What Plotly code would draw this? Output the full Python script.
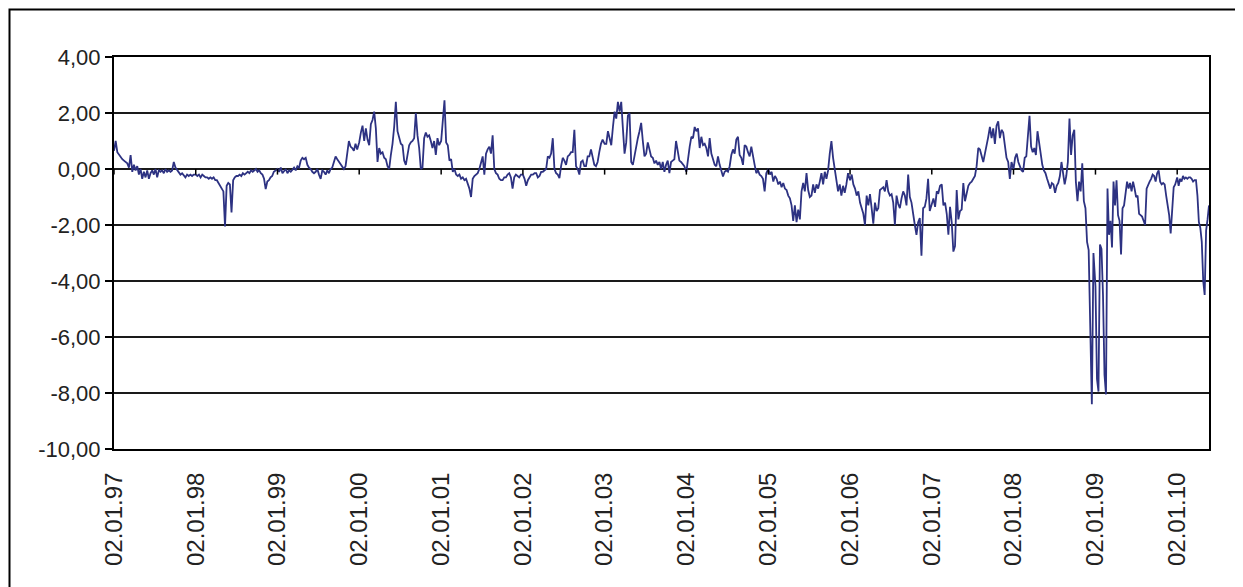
import pandas as pd
import plotly.graph_objects as go

# ---- data (one list per year) ----
v1997 = [0.65, 1.0, 0.6, 0.5, 0.45, 0.35, 0.3, 0.25, 0.2, 0.05, 0.5, -0.1, 0.15, -0.05, 0.1, -0.2,
         0.0, -0.35, -0.1, -0.3, -0.05, -0.35, -0.15, -0.05, -0.2, 0.0, -0.3, -0.05, -0.1, -0.05,
         -0.15, 0.0, -0.1, -0.05, -0.1, -0.05, 0.25, 0.05, -0.05, -0.1, -0.2, -0.15, -0.25, -0.3,
         -0.2, -0.25, -0.2, -0.25, -0.2]
v1998 = [-0.2, -0.25, -0.2, -0.3, -0.2, -0.25, -0.3, -0.3, -0.35, -0.3, -0.35, -0.3, -0.4, -0.4,
         -0.5, -0.55, -0.65, -0.8, -2.05, -0.6, -0.5, -0.55, -1.55, -0.4, -0.3, -0.25, -0.25, -0.2,
         -0.25, -0.15, -0.2, -0.15, -0.1, -0.15, -0.05, -0.1, -0.05, 0.0, -0.1, -0.05, -0.15, -0.2,
         -0.35, -0.72, -0.45, -0.4, -0.3, -0.25, -0.1, -0.05]
v1999 = [0.0, -0.1, 0.05, -0.15, -0.05, 0.0, -0.15, -0.05, -0.1, 0.0, 0.05, -0.05, 0.1, 0.05, 0.3,
         0.4, 0.35, 0.4, 0.15, 0.05, 0.0, -0.1, -0.15, -0.1, 0.0, -0.2, -0.35, -0.05, -0.1, -0.2,
         -0.05, -0.15, 0.0, 0.05, 0.3, 0.45, 0.35, 0.25, 0.15, 0.05, 0.0, 0.1, 0.55, 1.0, 0.8, 0.75,
         0.65, 0.9, 0.7]
v2000 = [0.95, 1.3, 1.55, 1.0, 1.45, 1.05, 0.85, 1.6, 1.75, 2.05, 1.45, 0.25, 0.75, 0.55, 0.6, 0.4,
         0.35, 0.1, 0.0, 0.5, 0.9, 1.5, 2.4, 1.35, 1.1, 0.9, 0.85, 0.3, 0.15, 0.5, 0.85, 0.95, 1.0,
         1.1, 2.0, 1.2, 0.75, 0.0, 0.05, 1.1, 1.3, 1.15, 1.2, 1.0, 0.75, 1.0, 0.5, 1.1, 0.85]
v2001 = [1.0, 1.9, 2.45, 0.95, 0.85, 0.3, 0.35, -0.1, 0.0, -0.2, -0.25, -0.2, -0.35, -0.3, -0.4,
         -0.35, -0.55, -0.7, -1.0, -0.35, -0.25, -0.2, -0.15, 0.0, 0.2, 0.45, -0.2, 0.55, 0.7, 0.8,
         0.55, 1.2, 0.0, -0.15, -0.2, -0.35, -0.4, -0.4, -0.3, -0.3, -0.2, -0.15, -0.3, -0.7, -0.3,
         -0.2, -0.25, -0.3, -0.2]
v2002 = [-0.2, -0.35, -0.6, -0.4, -0.3, -0.2, -0.2, -0.15, -0.15, -0.3, -0.25, -0.1, -0.1, -0.05,
         0.0, 0.45, 0.4, 0.55, 1.1, 0.0, -0.15, -0.2, -0.33, 0.1, 0.4, 0.3, 0.15, 0.45, 0.5, 0.6,
         0.6, 1.4, 0.1, 0.0, -0.2, 0.25, 0.3, 0.1, 0.1, 0.45, 0.45, 0.7, 0.45, 0.15, 0.1, 0.25, 0.6,
         0.9, 1.05]
v2003 = [0.9, 0.9, 1.35, 1.1, 0.85, 1.5, 2.05, 1.8, 2.4, 2.05, 2.4, 1.45, 0.55, 0.95, 1.9, 2.0,
         0.25, 0.15, 0.5, 0.85, 1.1, 1.35, 1.65, 1.0, 0.45, 0.55, 0.95, 0.7, 0.45, 0.4, 0.2, 0.3,
         0.15, 0.25, 0.0, 0.25, -0.1, 0.15, 0.3, -0.15, 0.25, 0.3, 0.35, 1.0, 0.55, 0.3, 0.25, 0.15,
         0.1]
v2004 = [-0.1, 0.45, 0.8, 1.15, 1.1, 1.5, 1.35, 1.45, 0.75, 1.15, 0.85, 0.9, 0.75, 0.45, 1.1, 0.55,
         0.3, 0.15, 0.1, 0.45, 0.15, -0.05, -0.27, -0.1, -0.05, -0.1, 0.1, 0.5, 0.7, 0.55, 1.05,
         1.15, 0.5, 0.4, 0.15, 0.85, 0.8, 0.6, 0.45, 0.8, 0.4, 0.15, -0.15, -0.05, -0.2, -0.25,
         -0.35, -0.8, -0.15]
v2005 = [0.0, -0.2, -0.1, -0.45, -0.25, -0.35, -0.55, -0.45, -0.65, -0.5, -0.7, -0.75, -0.95, -1.05,
         -1.3, -1.85, -1.3, -1.9, -1.45, -1.8, -0.8, -0.5, -0.8, -0.15, -0.75, -1.0, -0.95, -0.55,
         -0.85, -0.55, -0.7, -0.45, -0.15, -0.55, -0.1, -0.35, -0.05, 0.55, 1.0, 0.4, 0.0, -0.5,
         -0.8, -0.55, -0.95, -0.6, -0.85, -0.55, -0.15]
v2006 = [-0.4, -0.2, -0.55, -0.7, -0.95, -0.8, -1.2, -1.45, -1.6, -2.0, -0.95, -1.3, -0.9, -1.4,
         -1.95, -1.2, -1.5, -1.4, -0.75, -0.7, -0.65, -0.8, -0.4, -0.8, -0.95, -0.9, -1.2, -2.0,
         -0.95, -1.25, -1.4, -1.05, -0.8, -0.95, -1.3, -0.2, -1.0, -1.2, -1.7, -2.0, -2.35, -1.9,
         -1.75, -3.1, -1.4, -1.35, -1.05, -0.35, -1.5]
v2007 = [-1.2, -1.05, -1.35, -0.8, -0.85, -0.6, -0.55, -1.3, -1.2, -1.6, -2.35, -1.35, -1.9, -2.95,
         -2.75, -0.75, -1.8, -1.5, -1.45, -0.5, -1.15, -0.8, -0.6, -0.5, -0.45, -0.35, -0.25, 0.1,
         0.75, 0.7, 0.45, 0.25, 0.55, 0.8, 1.15, 1.5, 1.1, 1.45, 0.9, 1.55, 1.7, 1.1, 1.4, 1.3, 0.85,
         0.4, 0.25, -0.35, 0.25]
v2008 = [0.0, 0.4, 0.55, 0.25, 0.1, -0.05, -0.1, 0.4, 0.45, 1.25, 1.9, 0.8, 0.6, 0.75, 0.5, 1.35,
         0.95, 0.5, 0.15, -0.05, -0.15, -0.35, -0.55, -0.7, -0.5, -0.55, -0.85, -0.6, -0.5, -0.25,
         0.25, -0.2, -0.55, -0.25, 0.25, 1.8, 0.5, 1.2, 1.4, -0.45, -1.15, -0.45, -0.8, 0.2, -1.15,
         -1.4, -2.6, -2.9, -6.05, -8.4, -3.0]
v2009 = [-4.2, -7.5, -7.95, -2.7, -2.85, -4.5, -7.35, -8.05, -0.7, -2.35, -1.85, -2.8, -0.45, -1.3,
         -0.4, -1.65, -1.85, -3.05, -1.4, -1.3, -0.95, -0.45, -0.7, -0.5, -0.8, -0.45, -0.7, -1.0,
         -0.95, -1.6, -1.65, -1.7, -1.85, -2.0, -0.7, -0.55, -0.45, -0.35, -0.2, -0.25, -0.45,
         -0.15, -0.05, -0.45, -0.55, -0.5, -0.55, -0.95, -1.3, -1.65, -2.3, -1.2, -0.65, -0.55]
v2010 = [-0.3, -0.6, -0.35, -0.45, -0.25, -0.35, -0.3, -0.35, -0.3, -0.3, -0.35, -0.45, -0.4, -0.4,
         -0.95, -1.9, -2.1, -2.6, -4.0, -4.5, -2.2, -1.8, -1.3]

year_values = {1997: v1997, 1998: v1998, 1999: v1999, 2000: v2000, 2001: v2001, 2002: v2002,
               2003: v2003, 2004: v2004, 2005: v2005, 2006: v2006, 2007: v2007, 2008: v2008,
               2009: v2009, 2010: v2010}

tick_dates = ["1997-01-02", "1998-01-02", "1999-01-02", "2000-01-02", "2001-01-02", "2002-01-02",
              "2003-01-02", "2004-01-02", "2005-01-02", "2006-01-02", "2007-01-02", "2008-01-02",
              "2009-01-02", "2010-01-02"]
tick_labels = ["02.01.97", "02.01.98", "02.01.99", "02.01.00", "02.01.01", "02.01.02", "02.01.03",
               "02.01.04", "02.01.05", "02.01.06", "02.01.07", "02.01.08", "02.01.09", "02.01.10"]
y_ticks = [4, 2, 0, -2, -4, -6, -8, -10]
y_labels = ["4,00", "2,00", "0,00", "-2,00", "-4,00", "-6,00", "-8,00", "-10,00"]

# ---- build the series ----
xs, ys = [], []
for yr, vals in year_values.items():
    end = f"{yr}-12-24" if yr < 2010 else "2010-05-24"
    dates = pd.date_range(f"{yr}-01-02", end, periods=len(vals))
    xs.extend(dates)
    ys.extend(vals)

fig = go.Figure()
fig.add_trace(go.Scatter(x=xs, y=ys, mode="lines",
                         line=dict(color="#2d3282", width=1.8),
                         showlegend=False, hoverinfo="skip"))

# page body has an 8px margin, so the figure is drawn 8px smaller
OFF = 8
W, H = 1243 - OFF, 587 - OFF
L, T = 114 - OFF, 57 - OFF
pw, ph = 1095, 392
R, B = W - L - pw, H - T - ph

shapes = []
# Excel-style category ticks sitting on the zero line
for d in tick_dates:
    shapes.append(dict(type="line", xref="x", yref="y", x0=d, x1=d, y0=0, y1=-0.2,
                       line=dict(color="black", width=1.5)))
# outer chart-area border (page px 9.5 -> figure px 1.5)
shapes.append(dict(type="rect", xref="paper", yref="paper",
                   x0=(9.5 - OFF - L) / pw, x1=(W + 30 - L) / pw,
                   y0=-(H + 30 - (T + ph)) / ph, y1=(T + ph - (9.5 - OFF)) / ph,
                   line=dict(color="black", width=2), fillcolor="rgba(0,0,0,0)", layer="below"))

fig.update_layout(
    width=W, height=H,
    margin=dict(l=L, r=R, t=T, b=B),
    paper_bgcolor="white", plot_bgcolor="white",
    font=dict(family="Liberation Sans, Arial, sans-serif", color="#222222"),
    shapes=shapes,
    xaxis=dict(type="date", range=["1997-01-02", "2010-05-24"],
               tickvals=tick_dates, ticktext=tick_labels, tickangle=-90,
               tickfont=dict(size=24, color="#222222"),
               showgrid=False, zeroline=False, ticks="", ticklabelstandoff=12,
               showline=True, linecolor="black", linewidth=2, mirror=True),
    yaxis=dict(range=[-10, 4], tickvals=y_ticks, ticktext=y_labels,
               tickfont=dict(size=22, color="#222222"),
               showgrid=True, gridcolor="#1a1a1a", gridwidth=1.5, zeroline=False,
               ticks="outside", ticklen=7, tickcolor="black", tickwidth=1.5,
               showline=True, linecolor="black", linewidth=2, mirror=True),
)

fig.write_html("out.html")
